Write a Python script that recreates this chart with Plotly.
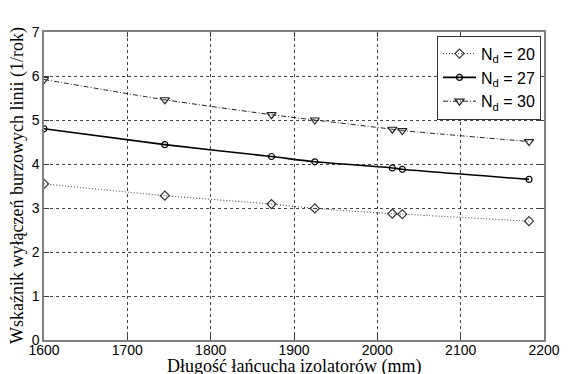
import plotly.graph_objects as go

x_vals = [1600, 1745, 1873, 1925, 2018, 2030, 2182]
nd20 = [3.55, 3.28, 3.09, 2.99, 2.87, 2.86, 2.70]
nd27 = [4.80, 4.44, 4.17, 4.05, 3.91, 3.88, 3.65]
nd30 = [5.92, 5.46, 5.12, 5.00, 4.79, 4.76, 4.51]
series_names = ["N<sub>d</sub> = 20", "N<sub>d</sub> = 27", "N<sub>d</sub> = 30"]
x_ticks = [1600, 1700, 1800, 1900, 2000, 2100, 2200]
y_ticks = [0, 1, 2, 3, 4, 5, 6, 7]
x_title = "Długość łańcucha izolatorów (mm)"
y_title = "Wskaźnik wyłączeń burzowych linii (1/rok)"

fig = go.Figure()
styles = [
    (nd20, "1px,2px", "diamond-open", 7, "#333333", 1),
    (nd27, "solid", "circle-open", 6, "#000000", 1.6),
    (nd30, "5px,2px,1px,2px", "triangle-down-open", 8, "#222222", 1),
]
for (vals, dash, sym, msize, col, w), name in zip(styles, series_names):
    fig.add_trace(go.Scatter(
        x=x_vals, y=vals, name=name, mode="lines+markers",
        line=dict(color=col, width=w, dash=dash, shape="spline", smoothing=0.6),
        marker=dict(symbol=sym, size=msize, color=col, line=dict(width=1.2, color=col)),
    ))

axis_common = dict(
    showline=True, linecolor="#808080", linewidth=1.5, mirror="allticks",
    ticks="inside", ticklen=5, tickcolor="#404040", automargin=False,
    showgrid=True, gridcolor="#444444", griddash="dot", gridwidth=1,
    zeroline=False, tickfont=dict(family="Liberation Sans, Arial", size=14, color="black"),
)
fig.update_xaxes(range=[1600, 2200], tickvals=x_ticks, ticklabelstandoff=-4, **axis_common)
fig.update_yaxes(range=[0, 7], tickvals=y_ticks, **axis_common)

title_font = dict(family="Liberation Serif, Times New Roman", size=18, color="black")
fig.add_annotation(text=x_title, xref="paper", yref="paper", x=0.5, y=0,
                   yshift=-26, xanchor="center", yanchor="middle",
                   showarrow=False, font=title_font)
fig.add_annotation(text=y_title, xref="paper", yref="paper", x=0, y=0.5,
                   xshift=-27, xanchor="center", yanchor="middle", textangle=-90,
                   showarrow=False, font=title_font)

fig.update_layout(
    width=561, height=366,
    margin=dict(l=36, r=25, t=24, b=34),
    paper_bgcolor="white", plot_bgcolor="white",
    legend=dict(x=0.994, y=0.988, xanchor="right", yanchor="top",
                bgcolor="white", bordercolor="#333333", borderwidth=1,
                font=dict(family="Liberation Sans, Arial", size=16, color="black"),
                tracegroupgap=0, itemwidth=33),
    showlegend=True,
)
fig.write_html("out.html")
